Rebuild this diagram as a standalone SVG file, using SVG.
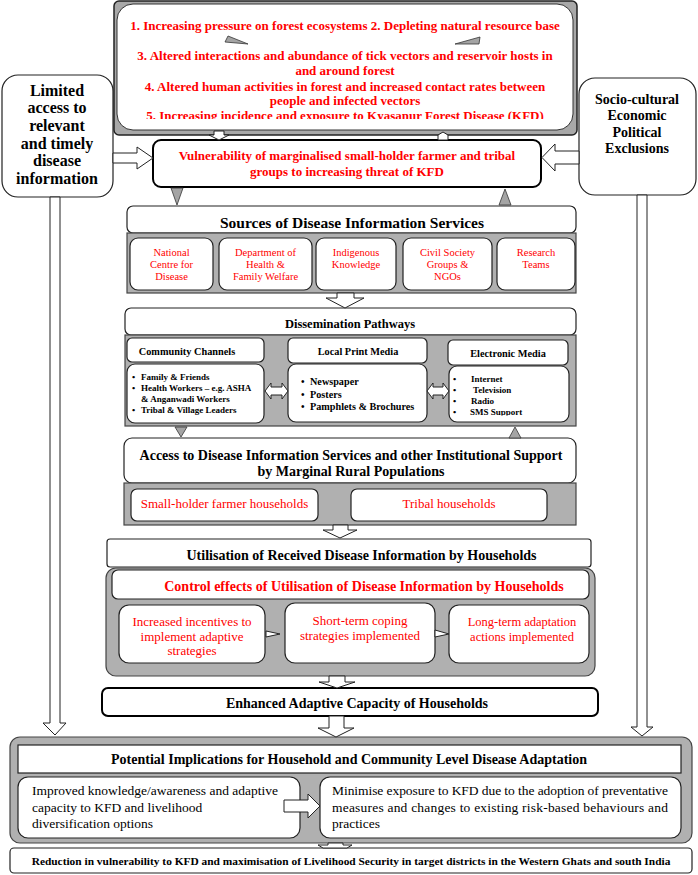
<svg xmlns="http://www.w3.org/2000/svg" width="698" height="875" viewBox="0 0 698 875">
<style>
text { font-family: 'Liberation Serif', 'Times New Roman', serif; }
.b { font-weight: bold; }
.red { fill: #ff0000; }
.blk { fill: #000; }
.mid { text-anchor: middle; }
.box { fill: #fff; stroke: #222; stroke-width: 1.2; }
.thick { fill: #fff; stroke: #000; stroke-width: 2; }
.panel { fill: #b0b0b0; stroke: #444; stroke-width: 1.2; }
.arr { fill: #fff; stroke: #222; stroke-width: 1; }
.tri { fill: #a4a4a4; stroke: #333; stroke-width: 0.8; }
</style>
<defs>
<clipPath id="clipTop"><rect x="117" y="100" width="456" height="19"/></clipPath>
<clipPath id="clipEM"><rect x="449" y="366" width="120" height="49.5"/></clipPath>
</defs>

<g id="drivers">
<rect x="114" y="1" width="463" height="134" rx="5" fill="#a8a8a8" stroke="#222" stroke-width="1.5"/>
<rect x="117" y="4" width="456" height="126" rx="16" fill="#fff" stroke="#333" stroke-width="1"/>
<g class="b red mid" font-size="13">
<text x="345" y="29.5">1. Increasing pressure on forest ecosystems 2. Depleting natural resource base</text>
<text x="345" y="59.5">3. Altered interactions and abundance of tick vectors and reservoir hosts in</text>
<text x="345" y="75">and around forest</text>
<text x="345" y="90.5">4. Altered human activities in forest and increased contact rates between</text>
<text x="345" y="105">people and infected vectors</text>
<text x="345" y="119.5" clip-path="url(#clipTop)">5. Increasing incidence and exposure to Kyasanur Forest Disease (KFD)</text>
</g>
</g>

<g id="limited-access">
<rect x="2" y="75" width="111" height="122" rx="16" class="box" stroke-width="1.5"/>
<g class="b blk mid" font-size="16">
<text x="57" y="95.5">Limited</text>
<text x="57" y="113.2">access to</text>
<text x="57" y="130.9">relevant</text>
<text x="57" y="148.6">and timely</text>
<text x="57" y="166.3">disease</text>
<text x="57" y="184">information</text>
</g>
</g>

<g id="exclusions">
<rect x="579" y="78" width="117" height="117" rx="16" class="box" stroke-width="1.5"/>
<g class="b blk mid" font-size="14">
<text x="637" y="104">Socio-cultural</text>
<text x="637" y="120">Economic</text>
<text x="637" y="137">Political</text>
<text x="637" y="153">Exclusions</text>
</g>
</g>

<g id="vulnerability">
<rect x="153" y="140" width="388" height="47" rx="8" class="thick"/>
<g class="b red mid" font-size="13">
<text x="347" y="159.5">Vulnerability of marginalised small-holder farmer and tribal</text>
<text x="347" y="176">groups to increasing threat of KFD</text>
</g>
</g>

<g id="sources">
<rect x="127" y="206" width="449" height="27" rx="6" class="box"/>
<text x="352" y="227.5" class="b blk mid" font-size="15.5">Sources of Disease Information Services</text>
<rect x="127" y="233" width="449" height="60" class="panel"/>
<rect x="130" y="238" width="83" height="52" rx="8" class="box"/>
<rect x="219" y="238" width="93" height="52" rx="8" class="box"/>
<rect x="316" y="238" width="80" height="52" rx="8" class="box"/>
<rect x="403" y="238" width="89" height="52" rx="8" class="box"/>
<rect x="497" y="238" width="78" height="52" rx="8" class="box"/>
<g class="red mid" font-size="10.5">
<text x="171.5" y="256">National</text>
<text x="171.5" y="268">Centre for</text>
<text x="171.5" y="280">Disease</text>
<text x="265.5" y="256">Department of</text>
<text x="265.5" y="268">Health &amp;</text>
<text x="265.5" y="280">Family Welfare</text>
<text x="356" y="256">Indigenous</text>
<text x="356" y="268">Knowledge</text>
<text x="447.5" y="256">Civil Society</text>
<text x="447.5" y="268">Groups &amp;</text>
<text x="447.5" y="280">NGOs</text>
<text x="536" y="256">Research</text>
<text x="536" y="268">Teams</text>
</g>
</g>

<g id="dissemination">
<rect x="125" y="308" width="451" height="27" rx="6" class="box"/>
<text x="350" y="327.5" class="b blk mid" font-size="12.5">Dissemination Pathways</text>
<rect x="125" y="335" width="451" height="91" class="panel"/>
<rect x="127" y="338" width="137" height="24" rx="5" class="box"/>
<rect x="288" y="338" width="139" height="25" rx="5" class="box"/>
<rect x="448" y="340" width="120" height="25" rx="5" class="box"/>
<g class="b blk mid" font-size="10.3">
<text x="187" y="354.7">Community Channels</text>
<text x="358" y="355">Local Print Media</text>
<text x="508" y="356.5">Electronic Media</text>
</g>
<rect x="127" y="364" width="137" height="59" rx="8" class="box"/>
<rect x="288" y="364" width="139" height="58" rx="8" class="box"/>
<rect x="449" y="366" width="120" height="56" rx="8" class="box"/>
<g class="b blk" font-size="9">
<text x="132" y="380">•</text><text x="141" y="380">Family &amp; Friends</text>
<text x="132" y="391">•</text><text x="141" y="391">Health Workers – e.g. ASHA</text>
<text x="141" y="402">&amp; Anganwadi Workers</text>
<text x="132" y="413">•</text><text x="141" y="413">Tribal &amp; Village Leaders</text>
</g>
<g class="b blk" font-size="10.2">
<text x="301" y="384.5">•</text><text x="310" y="384.5">Newspaper</text>
<text x="301" y="397.5">•</text><text x="310" y="397.5">Posters</text>
<text x="301" y="409.5">•</text><text x="310" y="409.5">Pamphlets &amp; Brochures</text>
</g>
<g class="b blk" font-size="9" clip-path="url(#clipEM)">
<text x="453" y="382">•</text><text x="471" y="382">Internet</text>
<text x="453" y="393">•</text><text x="473" y="393">Television</text>
<text x="453" y="404">•</text><text x="471" y="404">Radio</text>
<text x="453" y="415">•</text><text x="470" y="415">SMS Support</text>
</g>
</g>

<g id="access">
<rect x="124" y="438" width="452" height="45" rx="8" class="box"/>
<g class="b blk mid" font-size="14">
<text x="351" y="460">Access to Disease Information Services and other Institutional Support</text>
<text x="351" y="476">by Marginal Rural Populations</text>
</g>
<rect x="124" y="483" width="452" height="42" class="panel"/>
<rect x="131" y="489" width="187" height="32" rx="6" class="box"/>
<rect x="351" y="489" width="196" height="32" rx="6" class="box"/>
<g class="red mid" font-size="13">
<text x="224.5" y="507.5">Small-holder farmer households</text>
<text x="449" y="507.5">Tribal households</text>
</g>
</g>

<g id="utilisation">
<rect x="107" y="539" width="484" height="28" rx="3" class="box"/>
<text x="361.5" y="560" class="b blk mid" font-size="14">Utilisation of Received Disease Information by Households</text>
</g>

<g id="control-effects">
<rect x="106" y="568" width="489" height="108" rx="10" class="panel"/>
<rect x="112" y="570" width="477" height="29" rx="6" class="box"/>
<text x="364" y="591" class="b red mid" font-size="14">Control effects of Utilisation of Disease Information by Households</text>
<rect x="119" y="605" width="146" height="58" rx="10" class="box"/>
<rect x="285" y="603" width="150" height="60" rx="10" class="box"/>
<rect x="449" y="605" width="140" height="58" rx="10" class="box"/>
<g class="red mid" font-size="13">
<text x="192" y="625.5">Increased incentives to</text>
<text x="192" y="640.5">implement adaptive</text>
<text x="192" y="654.5">strategies</text>
<text x="360" y="624.5">Short-term coping</text>
<text x="360" y="639.5">strategies implemented</text>
</g>
<g class="red mid" font-size="12.5">
<text x="522" y="625.5">Long-term adaptation</text>
<text x="522" y="640.5">actions implemented</text>
</g>
</g>

<g id="adaptive-capacity">
<rect x="102" y="688" width="496" height="28" rx="6" class="thick"/>
<text x="357" y="708" class="b blk mid" font-size="14">Enhanced Adaptive Capacity of Households</text>
</g>

<g id="implications">
<rect x="10" y="737" width="682" height="106" rx="10" class="panel"/>
<rect x="18" y="745" width="663" height="28" class="box"/>
<text x="349" y="764" class="b blk mid" font-size="14.5" textLength="476" lengthAdjust="spacingAndGlyphs">Potential Implications for Household and Community Level Disease Adaptation</text>
<rect x="18" y="777" width="282" height="61" rx="10" class="box"/>
<rect x="320" y="777" width="361" height="61" rx="10" class="box"/>
<g class="blk" font-size="13.5">
<text x="32" y="794.5" textLength="246" lengthAdjust="spacingAndGlyphs">Improved knowledge/awareness and adaptive</text>
<text x="32" y="811.5">capacity to KFD and livelihood</text>
<text x="32" y="827.5">diversification options</text>
<text x="332" y="794.5" textLength="336" lengthAdjust="spacing">Minimise exposure to KFD due to the adoption of preventative</text>
<text x="332" y="811.5" textLength="336" lengthAdjust="spacing">measures and changes to existing risk-based behaviours and</text>
<text x="332" y="827.5">practices</text>
</g>
</g>

<g id="outcome">
<rect x="10" y="848" width="682" height="25" rx="4" class="box" stroke-width="1.5"/>
<text x="351" y="865" class="b blk mid" font-size="11.4">Reduction in vulnerability to KFD and maximisation of Livelihood Security in target districts in the Western Ghats and south India</text>
</g>

<g id="connectors">
<polygon class="tri" points="228,36 225,42 248,44"/>
<polygon class="tri" points="455,44 480,37 479,44"/>
<polygon class="arr" points="214,131 224,131 224,135 229,135 219,140 209,135 214,135"/>
<polygon class="arr" points="438,140 438,135 443,132 448,135 448,140"/>
<polygon class="arr" points="113,153 137,153 137,147 153,158 137,169 137,163 113,163"/>
<polygon class="arr" points="579,151 555,151 555,144 542,157.5 555,171 555,164 579,164"/>
<polygon class="arr" points="50,197 60,197 60,723 66,723 55,735 43,723 50,723"/>
<polygon class="arr" points="637,195 647,195 647,727 653,727 642,736 631,727 637,727"/>
<polygon class="tri" points="171,188 183,188 177,205"/>
<polygon class="tri" points="499,205 511,205 505,189"/>
<polygon class="arr" points="337,293 354,293 354,298 364,298 345,308 326,298 337,298"/>
<polygon class="arr" points="265,391 271,383 271,387 282,387 282,383 288,391 282,399 282,395 271,395 271,399"/>
<polygon class="arr" points="427,391 433,383 433,387 443,387 443,383 449,391 443,399 443,395 433,395 433,399"/>
<polygon class="tri" points="175,427 187,427 181,437"/>
<polygon class="tri" points="509,438 521,438 515,427"/>
<polygon class="arr" points="333,525 348,525 348,530 357,530 340,538 323,530 333,530"/>
<polygon class="arr" points="266,631 280,634 266,637"/>
<polygon class="arr" points="435,630 449,634 435,637"/>
<polygon class="arr" points="329,676 345,676 345,682 355,682 337,688 319,682 329,682"/>
<polygon class="arr" points="329,716 344,716 344,728 354,728 336,737 318,728 329,728"/>
<polygon class="arr" points="284,800 308,800 308,794 320,806 308,818 308,812 284,812"/>
<polygon class="arr" points="328,843 343,843 343,845 352,845 347,848 323,848 318,845 328,845"/>
</g>
</svg>
